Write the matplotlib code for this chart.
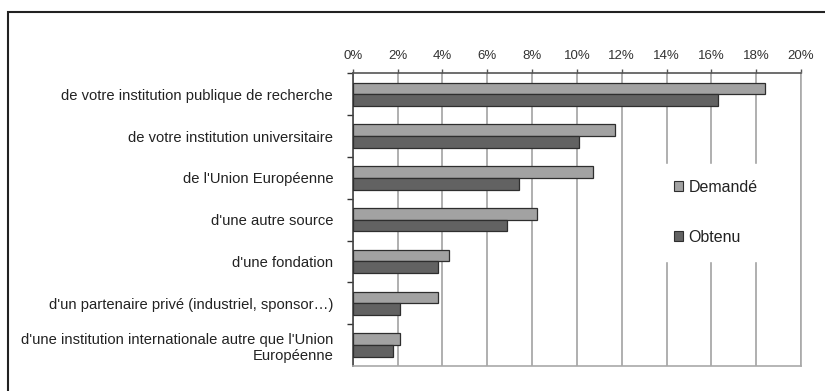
import matplotlib
matplotlib.use("Agg")
import matplotlib.pyplot as plt
from matplotlib.patches import Patch, Rectangle
from matplotlib.ticker import FuncFormatter, FixedLocator
import numpy as np

plt.rcParams['font.family'] = ['Liberation Sans', 'DejaVu Sans']

categories = [
    "de votre institution publique de recherche",
    "de votre institution universitaire",
    "de l'Union Européenne",
    "d'une autre source",
    "d'une fondation",
    "d'un partenaire privé (industriel, sponsor…)",
    "d'une institution internationale autre que l'Union\nEuropéenne",
]
demande = [18.4, 11.7, 10.7, 8.2, 4.3, 3.8, 2.1]
obtenu = [16.3, 10.1, 7.4, 6.9, 3.8, 2.1, 1.8]
series_names = ["Demandé", "Obtenu"]
xticks = [0, 2, 4, 6, 8, 10, 12, 14, 16, 18, 20]

c_dem = "#a2a2a2"
c_obt = "#626262"
c_edge = "#2e2e2e"
c_grid = "#a9a9a9"

fig = plt.figure(figsize=(8.25, 3.91), dpi=100)
ax = fig.add_axes([0.4275, 0.064, 0.5435, 0.7485])

n = len(categories)
y = np.arange(n)
h = 0.28
ax.barh(y - h / 2, demande, height=h, color=c_dem, edgecolor=c_edge, linewidth=0.9, zorder=3)
ax.barh(y + h / 2, obtenu, height=h, color=c_obt, edgecolor=c_edge, linewidth=0.9, zorder=3)

ax.set_xlim(0, 20)
ax.set_ylim(n - 0.5, -0.5)

ax.xaxis.tick_top()
ax.set_xticks(xticks)
ax.xaxis.set_major_formatter(FuncFormatter(lambda v, p: f"{v:g}%"))
ax.tick_params(axis='x', length=3, width=1, color="#555555", labelsize=9.5,
               labelcolor="#333333", pad=5)
ax.grid(axis='x', color=c_grid, linewidth=1.3, zorder=0)

# y ticks at the category boundaries, labels at the centres
ax.yaxis.set_major_locator(FixedLocator(np.arange(-0.5, n - 1, 1.0)))
ax.yaxis.set_major_formatter(FuncFormatter(lambda v, p: ""))
ax.yaxis.set_minor_locator(FixedLocator(y))
ax.set_yticklabels(categories, minor=True)
ax.tick_params(axis='y', which='major', length=4, width=1, color="#333333")
ax.tick_params(axis='y', which='minor', length=0, pad=14, labelsize=10.6, labelcolor="#222222")
for lbl in ax.get_yticklabels(minor=True):
    lbl.set_horizontalalignment('right')

ax.spines['top'].set_color("#555555")
ax.spines['left'].set_color("#444444")
ax.spines['right'].set_color(c_grid)
ax.spines['bottom'].set_color(c_grid)
for s in ax.spines.values():
    s.set_linewidth(1.2)

handles = [Patch(facecolor=c_dem, edgecolor=c_edge, linewidth=0.8),
           Patch(facecolor=c_obt, edgecolor=c_edge, linewidth=0.8)]
leg = ax.legend(handles, series_names, loc='center left', bbox_to_anchor=(0.68, 0.525),
                fontsize=11.5, frameon=True, framealpha=1, facecolor='white',
                edgecolor='white', handlelength=0.6, handleheight=0.6,
                handletextpad=0.35, labelspacing=2.2, borderpad=1.0, borderaxespad=0)
leg.set_zorder(5)
for t in leg.get_texts():
    t.set_color("#222222")

# outer frame around the chart
fig.patches.append(Rectangle((8 / 825, -0.1), 1.2, (391 - 12) / 391 + 0.1,
                             transform=fig.transFigure, fill=False,
                             edgecolor="#222222", linewidth=1.5))

fig.savefig("out.png", dpi=100)
